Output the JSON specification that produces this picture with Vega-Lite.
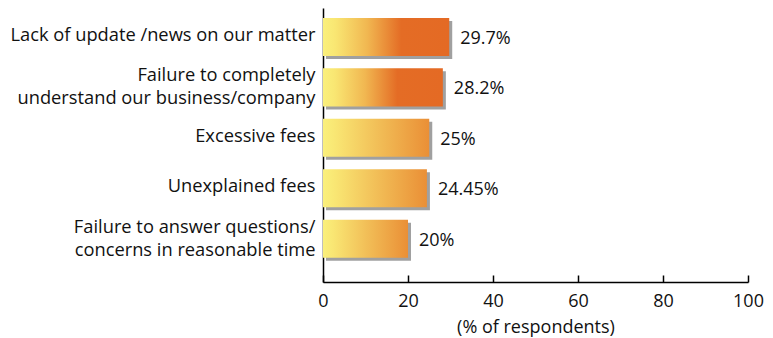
{
  "$schema": "https://vega.github.io/schema/vega-lite/v6.json",
  "autosize": "none",
  "width": 425,
  "height": 274,
  "padding": {"left": 323, "top": 8, "right": 25, "bottom": 56},
  "background": "white",
  "config": {"view": {"stroke": null}, "font": "Open Sans"},
  "data": {"values": [
    {"reason": "Lack of update /news on our matter", "pct": 29.7, "label": "29.7%", "group": "high"},
    {"reason": "Failure to completely|understand our business/company", "pct": 28.2, "label": "28.2%", "group": "high"},
    {"reason": "Excessive fees", "pct": 25, "label": "25%", "group": "low"},
    {"reason": "Unexplained fees", "pct": 24.45, "label": "24.45%", "group": "low"},
    {"reason": "Failure to answer questions/|concerns in reasonable time", "pct": 20, "label": "20%", "group": "low"}
  ]},
  "encoding": {
    "y": {
      "field": "reason", "type": "nominal", "sort": null,
      "scale": {"paddingInner": 0.246, "paddingOuter": 0.34, "align": 0.29},
      "axis": {
        "title": null, "ticks": false, "domainColor": "#000000", "domainWidth": 1.5,
        "labelExpr": "split(datum.label, '|')", "labelFontSize": 18.3, "labelColor": "#111111",
        "labelPadding": 8, "labelLimit": 400, "labelLineHeight": 23, "grid": false,
        "labelOffset": {"condition": {"test": "indexof(datum.label, '|') >= 0", "value": -11}, "value": -1}
      }
    },
    "x": {
      "field": "pct", "type": "quantitative",
      "scale": {"domain": [0, 100]},
      "axis": {
        "title": "(% of respondents)", "titleFontSize": 18, "titleFontWeight": "normal", "titleColor": "#111111",
        "titlePadding": 8, "labelFlush": false,
        "values": [0, 20, 40, 60, 80, 100], "grid": false, "domainColor": "#000000", "domainWidth": 1.5,
        "tickColor": "#000000", "tickSize": -7, "tickWidth": 1.5, "labelFontSize": 18, "labelColor": "#111111",
        "labelPadding": 17
      }
    }
  },
  "layer": [
    {"mark": {"type": "bar", "color": "#a0a0a0", "xOffset": 3, "yOffset": 3}},
    {
      "transform": [{"filter": "datum.group == 'high'"}],
      "mark": {"type": "bar", "color": {"gradient": "linear", "x1": 0, "x2": 1, "y1": 0, "y2": 0, "stops": [
        {"offset": 0, "color": "#faf07c"},
        {"offset": 0.1, "color": "#f9e672"},
        {"offset": 0.35, "color": "#f1b751"},
        {"offset": 0.62, "color": "#e46c25"},
        {"offset": 1, "color": "#e46a24"}
      ]}}
    },
    {
      "transform": [{"filter": "datum.group == 'low'"}],
      "mark": {"type": "bar", "color": {"gradient": "linear", "x1": 0, "x2": 1, "y1": 0, "y2": 0, "stops": [
        {"offset": 0, "color": "#faf07c"},
        {"offset": 0.12, "color": "#f9e673"},
        {"offset": 0.55, "color": "#f1bb55"},
        {"offset": 1, "color": "#ea8f36"}
      ]}}
    },
    {
      "mark": {"type": "text", "align": "left", "baseline": "middle", "dx": 11, "dy": 2, "fontSize": 18, "color": "#111111"},
      "encoding": {"text": {"field": "label"}}
    }
  ]
}
